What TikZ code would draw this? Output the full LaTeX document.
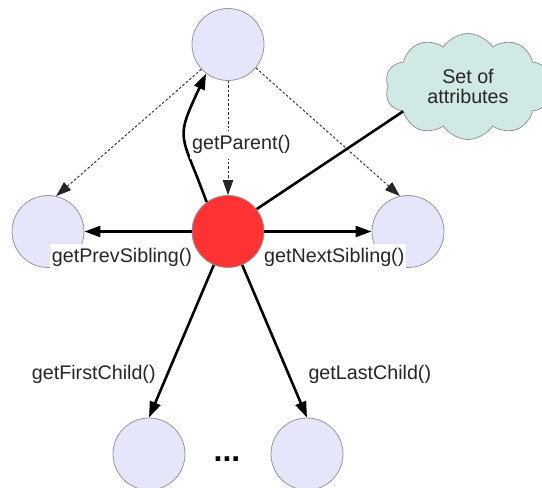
\documentclass[tikz,border=0pt]{standalone}
\usepackage{fontspec}
\setmainfont{Liberation Sans}
\usetikzlibrary{arrows.meta,shapes.symbols}
\definecolor{nodefill}{RGB}{230,230,250}
\definecolor{nodeedge}{RGB}{150,150,150}
\definecolor{curred}{RGB}{255,51,51}
\definecolor{cloudfill}{RGB}{209,233,229}
\tikzset{
  treenode/.style={circle,draw=nodeedge,line width=0.8pt,fill=nodefill,minimum size=72pt,inner sep=0pt},
  curnode/.style={treenode,fill=curred},
  thickarrow/.style={line width=2.6pt,-{Triangle[length=16pt,width=11pt]}},
  thinarrow/.style={line width=0.9pt,dash pattern=on 2.5pt off 2pt,color=black!85,-{Triangle[length=15pt,width=10.5pt]}},
  lbl/.style={fill=white,inner xsep=2pt,inner ysep=5pt,anchor=base west,font=\fontsize{19.7}{20}\selectfont,text=black!85},
  attrcloud/.style={cloud,cloud puffs=10,cloud puff arc=115,aspect=1.55,draw=nodeedge,line width=0.8pt,fill=cloudfill,minimum width=166pt,minimum height=106pt,align=center,font=\fontsize{19.7}{20}\selectfont,text=black!85}
}
\begin{document}
\begin{tikzpicture}[x=1pt,y=1pt]
\useasboundingbox (0,0) rectangle (542,488);
% nodes
\node[treenode] (top) at (228,443.5) {};
\node[curnode] (cur) at (228,256.5) {};
\node[treenode] (prev) at (48,256.5) {};
\node[treenode] (next) at (408,256.5) {};
\node[treenode] (first) at (149,34) {};
\node[treenode] (last) at (307,34) {};
\node[attrcloud] (attr) at (468,401.5) {Set of\\attributes};
% connectors
\draw[thinarrow] (top.-137) -- (prev.77);
\draw[thinarrow] (top.-40) -- (next.103);
\draw[thinarrow] (top.south) -- (cur.north);
\draw[thickarrow] (cur.126) to[out=110,in=-115,looseness=1.5] (top.-127);
\draw[line width=2.6pt] (cur.38) -- (attr.201);
\draw[thickarrow] (cur.west) -- (prev.east);
\draw[thickarrow] (cur.east) -- (next.west);
\draw[thickarrow] (cur) -- (first.north);
\draw[thickarrow] (cur) -- (last.north);
% labels
\node[lbl] (lparent) at (190,338) {getParent()};
\node[lbl] (lprev) at (49.7,225) {getPrevSibling()};
\node[lbl] (lnext) at (262,225) {getNextSibling()};
\node[lbl] (lfirst) at (29.7,108.7) {getFirstChild()};
\node[lbl] (llast) at (306.3,108.7) {getLastChild()};
\node[anchor=base,font=\fontsize{32}{32}\selectfont\bfseries,inner sep=0pt] (dots) at (227,26) {...};
\end{tikzpicture}
\end{document}
